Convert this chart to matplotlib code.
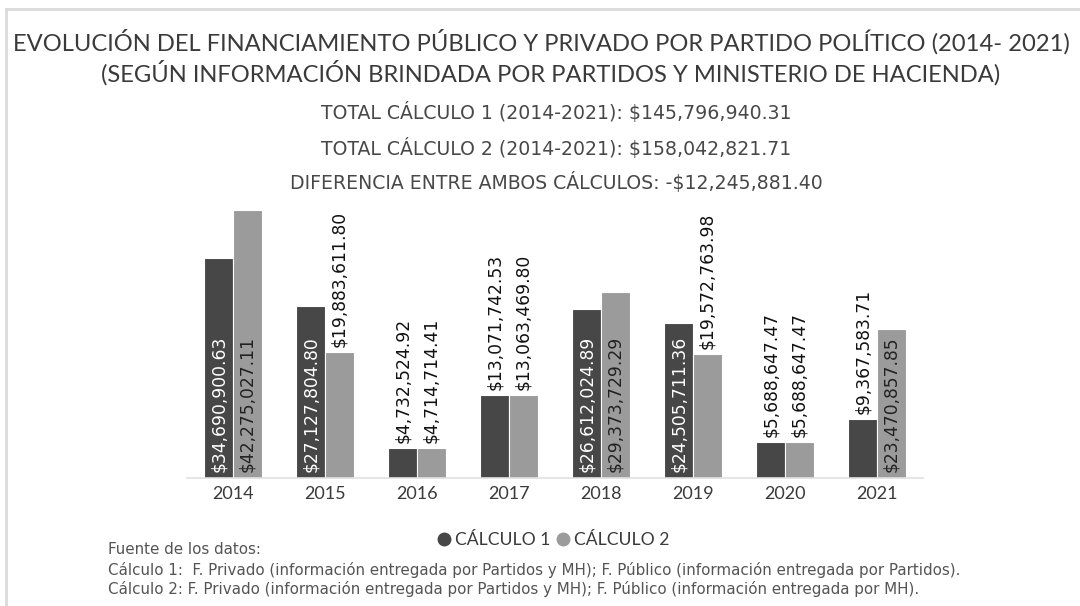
import matplotlib
matplotlib.use("Agg")
import matplotlib.pyplot as plt
from matplotlib.lines import Line2D
import numpy as np

plt.rcParams["font.family"] = ["Lato", "DejaVu Sans"]

years = ["2014", "2015", "2016", "2017", "2018", "2019", "2020", "2021"]
calculo1 = [34690900.63, 27127804.80, 4732524.92, 13071742.53,
            26612024.89, 24505711.36, 5688647.47, 9367583.71]
calculo2 = [42275027.11, 19883611.80, 4714714.41, 13063469.80,
            29373729.29, 19572763.98, 5688647.47, 23470857.85]
series_names = ["CÁLCULO 1", "CÁLCULO 2"]

title_lines = ["EVOLUCIÓN DEL FINANCIAMIENTO PÚBLICO Y PRIVADO POR PARTIDO POLÍTICO (2014- 2021)",
               "(SEGÚN INFORMACIÓN BRINDADA POR PARTIDOS Y MINISTERIO DE HACIENDA)"]
sub_lines = ["TOTAL CÁLCULO 1 (2014-2021): $145,796,940.31",
             "TOTAL CÁLCULO 2 (2014-2021): $158,042,821.71",
             "DIFERENCIA ENTRE AMBOS CÁLCULOS: -$12,245,881.40"]
notes = ["Fuente de los datos:",
         "Cálculo 1:  F. Privado (información entregada por Partidos y MH); F. Público (información entregada por Partidos).",
         "Cálculo 2: F. Privado (información entregada por Partidos y MH); F. Público (información entregada por MH)."]

DARK = "#474747"; LIGHT = "#9b9b9b"; TXT = "#3a3a3a"; FRAME = "#dadada"
DV = ["DejaVu Sans"]

W, H = 1080, 606
fig = plt.figure(figsize=(W / 100, H / 100), dpi=100)
fig.patch.set_facecolor("white")

# marco gris (arriba e izquierda)
fig.add_artist(Line2D([6 / W, 6 / W], [0, 1 - 9 / H], color=FRAME, lw=2, transform=fig.transFigure))
fig.add_artist(Line2D([6 / W, 1], [1 - 9 / H, 1 - 9 / H], color=FRAME, lw=2, transform=fig.transFigure))

# ejes: base en y=478 px, 2014 en x=233
ax = fig.add_axes([187 / W, 1 - 478 / H, (923 - 187) / W, (478 - 199) / H])
x = np.arange(len(years))
bw = 0.31
vals = [np.array(calculo1) / 1e6, np.array(calculo2) / 1e6]
cols = [DARK, LIGHT]
inside_col = ["white", "#222222"]
for k in range(2):
    xs = x + (k - 0.5) * bw
    ax.bar(xs, vals[k], width=bw, color=cols[k], edgecolor="white", linewidth=0.8, zorder=2)
    raw = calculo1 if k == 0 else calculo2
    for xi, v, r in zip(xs, vals[k], raw):
        lab = f"${r:,.2f}"
        if v > 21:   # cabe dentro de la barra
            ax.text(xi, 1.0, lab, rotation=90, ha="center", va="bottom", family=DV,
                    fontsize=12.3, color=inside_col[k], zorder=3)
        else:
            ax.text(xi, v + 0.8, lab, rotation=90, ha="center", va="bottom", family=DV,
                    fontsize=12.3, color="#111111", zorder=3, clip_on=False)

ax.set_xlim(-0.5, len(years) - 0.5)
ax.set_ylim(0, 44)
ax.set_xticks(x)
ax.set_xticklabels(years, fontsize=13, color=TXT)
ax.tick_params(axis="x", length=0, pad=6)
ax.set_yticks([])
for s in ["top", "right", "left"]:
    ax.spines[s].set_visible(False)
ax.spines["bottom"].set_color("#e0e0e0")
ax.spines["bottom"].set_linewidth(1.2)

# títulos
for (xx, yy), t in zip([(541, 42), (551, 73)], title_lines):
    fig.text(xx / W, 1 - yy / H, t, ha="center", va="center", fontsize=17.1, color=TXT)
for yy, t in zip([112, 148, 182], sub_lines):
    fig.text(556 / W, 1 - yy / H, t, ha="center", va="center", fontsize=13.6,
             color="#484848", family=DV)

# leyenda
handles = [Line2D([], [], marker="o", ls="", color=c, markersize=9) for c in cols]
fig.legend(handles, series_names, loc="center", bbox_to_anchor=(553 / W, 1 - 540 / H),
           ncol=2, frameon=False, fontsize=12.6, handletextpad=0.25, columnspacing=0.3,
           handlelength=0.8, labelcolor=TXT)

# notas al pie
for yy, t in zip([550, 570, 589], notes):
    fig.text(108 / W, 1 - yy / H, t, ha="left", va="center", fontsize=10.9,
             color="#555555", family=DV)

fig.savefig("out.png", dpi=100, facecolor="white")
